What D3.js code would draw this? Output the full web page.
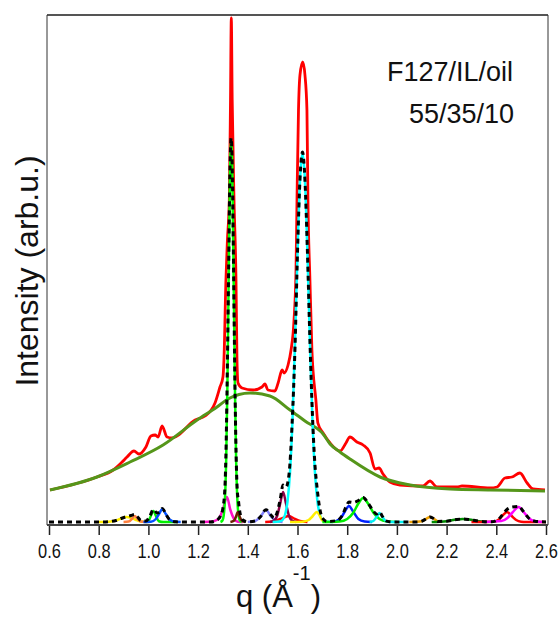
<!DOCTYPE html>
<html>
<head>
<meta charset="utf-8">
<script src="https://cdn.jsdelivr.net/npm/d3@7"></script>
<style>
  body { margin: 0; background: #fff; }
  text { font-family: "Liberation Sans", Arial, sans-serif; fill: #111; }
</style>
</head>
<body>
<div class="layout"></div>
<script>
// tick labels on q axis
var qTicks = [0.6, 0.8, 1.0, 1.2, 1.4, 1.6, 1.8, 2.0, 2.2, 2.4, 2.6];

// measured curve (red), [q, intensity]
var measured = [
  [0.604, 32], [0.793, 45], [0.858, 52], [0.894, 60], [0.914, 65], [0.942, 71], [0.962, 68],
  [0.990, 75], [1.010, 86], [1.027, 87], [1.039, 85], [1.055, 96], [1.075, 85], [1.095, 84],
  [1.188, 102], [1.228, 106], [1.268, 119], [1.288, 135], [1.300, 145], [1.304, 162],
  [1.312, 242], [1.318, 282], [1.3256, 322], [1.3304, 422], [1.3336, 504], [1.3372, 422],
  [1.3445, 322], [1.3525, 242], [1.3565, 162], [1.3606, 139], [1.3767, 134], [1.421, 132],
  [1.457, 135], [1.469, 138], [1.481, 132], [1.509, 131], [1.522, 139], [1.538, 152],
  [1.546, 149], [1.562, 157], [1.574, 172], [1.586, 202], [1.594, 252], [1.598, 322],
  [1.604, 412], [1.610, 447], [1.621, 460], [1.630, 447], [1.638, 412], [1.642, 322],
  [1.650, 242], [1.658, 172], [1.674, 122], [1.682, 99], [1.703, 89], [1.731, 79],
  [1.771, 71], [1.795, 79], [1.811, 85], [1.839, 80], [1.864, 77], [1.892, 69], [1.912, 53],
  [1.928, 54], [1.944, 48], [1.972, 40], [2.012, 37], [2.105, 36], [2.133, 41], [2.161, 35],
  [2.242, 35], [2.262, 36], [2.375, 34], [2.403, 35], [2.435, 44], [2.463, 45], [2.495, 49],
  [2.524, 39], [2.548, 33], [2.596, 32]
];

// broad background (olive green)
var background = [
  [0.604, 32], [0.793, 45], [0.926, 60], [1.059, 77], [1.196, 102], [1.276, 115], [1.320, 123],
  [1.409, 129], [1.489, 126], [1.570, 112], [1.630, 101], [1.703, 88], [1.731, 78],
  [1.771, 70], [1.811, 63], [1.932, 45], [2.053, 37], [2.214, 33], [2.375, 32], [2.596, 31]
];

// fitted peak components
var peak091 = [[0.80, 0], [0.84, 0.3], [0.87, 1.5], [0.89, 3.5], [0.91, 5], [0.93, 4.2], [0.95, 2], [0.97, 0.5], [1.00, 0]];
var peak095 = [[0.90, 0], [0.92, 0.4], [0.935, 3.5], [0.945, 6], [0.955, 3.5], [0.97, 0.4], [0.99, 0]];
var peak102 = [[0.99, 0], [1.00, 0.8], [1.008, 5], [1.02, 11], [1.032, 5], [1.042, 0.8], [1.06, 0], [1.115, 0]];
var peak106 = [[0.98, 0], [1.01, 0.3], [1.03, 3], [1.045, 9], [1.056, 13], [1.07, 8], [1.085, 2.5], [1.11, 0.2], [1.13, 0]];
var peak132 = [[1.22, 0], [1.26, 0.5], [1.285, 4], [1.30, 13], [1.316, 25], [1.33, 12], [1.345, 3], [1.36, 0.3], [1.38, 0]];
var peak133 = [[1.29, 0], [1.298, 1.5], [1.303, 6.5], [1.308, 22], [1.313, 62], [1.318, 138], [1.323, 243],
               [1.328, 341], [1.333, 382], [1.338, 341], [1.343, 243], [1.348, 138], [1.353, 62],
               [1.358, 22], [1.363, 6.5], [1.368, 1.5], [1.376, 0]];
var peak136 = [[1.33, 0], [1.345, 1.5], [1.352, 5], [1.36, 10], [1.368, 5], [1.375, 1.5], [1.39, 0]];
var peak147 = [[1.40, 0], [1.43, 1], [1.45, 5], [1.473, 12], [1.495, 5], [1.515, 1], [1.54, 0]];
var peak156 = [[1.47, 0], [1.50, 0.5], [1.53, 3], [1.565, 6], [1.59, 3], [1.61, 1], [1.64, 0]];
var peak154 = [[1.49, 0], [1.505, 1.5], [1.518, 6], [1.53, 18], [1.542, 30], [1.554, 18], [1.566, 6], [1.578, 1.5], [1.595, 0]];
var peak162 = [[1.50, 0], [1.525, 0.5], [1.54, 2.2], [1.55, 7.3], [1.56, 21], [1.57, 50], [1.58, 103], [1.59, 180],
               [1.60, 268], [1.61, 341], [1.62, 369], [1.63, 341], [1.64, 268], [1.65, 180], [1.66, 103],
               [1.67, 50], [1.68, 21], [1.69, 7.3], [1.70, 2.2], [1.715, 0.5], [1.74, 0]];
var peak168 = [[1.57, 0], [1.62, 0.3], [1.645, 2], [1.66, 5.5], [1.678, 10], [1.69, 6], [1.70, 1.5], [1.72, 0]];
var peak181 = [[1.74, 0], [1.76, 1.5], [1.78, 6], [1.795, 12.5], [1.807, 16], [1.825, 10], [1.845, 3], [1.87, 0.5], [1.90, 0]];
var peak186 = [[1.70, 0], [1.77, 0.5], [1.80, 3], [1.825, 9.5], [1.845, 18.5], [1.864, 24], [1.885, 18], [1.905, 9.5], [1.93, 3], [1.96, 0.5], [2.00, 0]];
var peak193 = [[1.89, 0], [1.905, 1], [1.918, 5], [1.93, 9], [1.942, 5], [1.955, 1], [1.97, 0], [2.04, 0]];
var peak213 = [[2.05, 0], [2.10, 0.8], [2.12, 3.5], [2.133, 5], [2.147, 3.5], [2.165, 0.6], [2.18, 0]];
var peak226 = [[2.14, 0], [2.20, 0.8], [2.24, 2.5], [2.265, 3], [2.29, 2.5], [2.33, 0.8], [2.36, 0]];
var peak244 = [[2.30, 0], [2.39, 0.3], [2.41, 2.5], [2.427, 7], [2.443, 10], [2.46, 6.5], [2.48, 2], [2.50, 0.3], [2.52, 0], [2.60, 0]];
var peak249 = [[2.35, 0], [2.42, 1], [2.445, 4], [2.465, 9.5], [2.49, 15], [2.51, 10], [2.53, 4], [2.555, 0.8], [2.59, 0]];

// sum of peak components (black dotted)
var peakSum = [
  [0.6, 0], [0.82, 0], [0.84, 0.3], [0.87, 1.5], [0.89, 3.5], [0.91, 5.2], [0.93, 6.5], [0.945, 7.5],
  [0.955, 5.5], [0.97, 1.5], [0.99, 1], [1.005, 5.5], [1.02, 12.5], [1.035, 9], [1.045, 10],
  [1.056, 13.5], [1.07, 8], [1.085, 2.5], [1.11, 0.2], [1.15, 0], [1.25, 0], [1.27, 1], [1.29, 6],
  [1.30, 14], [1.308, 35], [1.313, 80], [1.318, 160], [1.323, 255], [1.328, 348], [1.333, 384],
  [1.338, 345], [1.343, 248], [1.348, 142], [1.353, 67], [1.358, 30], [1.362, 22], [1.368, 10],
  [1.38, 2], [1.40, 0.2], [1.43, 1], [1.45, 5], [1.473, 12.2], [1.495, 6.5], [1.505, 4],
  [1.518, 9.5], [1.53, 22], [1.542, 37], [1.554, 35], [1.566, 48], [1.578, 97], [1.59, 175],
  [1.60, 270], [1.61, 343], [1.62, 370], [1.63, 342], [1.64, 270], [1.65, 182], [1.66, 108],
  [1.67, 58], [1.678, 36], [1.69, 13], [1.70, 4], [1.72, 0.5], [1.76, 1.5], [1.78, 6.5],
  [1.795, 15], [1.807, 20], [1.825, 19.5], [1.845, 21.5], [1.864, 24.5], [1.885, 18.5],
  [1.905, 11], [1.918, 8], [1.93, 10], [1.942, 5.5], [1.955, 1.2], [1.97, 0.2], [2.0, 0],
  [2.08, 0], [2.10, 0.8], [2.12, 3.5], [2.133, 5], [2.147, 3.5], [2.165, 0.6], [2.20, 0.8],
  [2.24, 2.5], [2.265, 3], [2.29, 2.5], [2.33, 0.8], [2.38, 0.2], [2.41, 3], [2.427, 8],
  [2.443, 12.5], [2.465, 15], [2.49, 15.5], [2.51, 10.3], [2.53, 4], [2.555, 0.8], [2.6, 0]
];

var components = [peak091, peak095, peak102, peak106, peak132, peak133, peak136, peak147, peak156,
                  peak154, peak162, peak168, peak181, peak186, peak193, peak213, peak226, peak244, peak249];
var componentColors = ["#ffee00", "#ff8040", "#00ee00", "#0050ff", "#ff10c8", "#00ff00", "#6b2000",
                       "#8080ff", "#ff0000", "#8c0048", "#00ffff", "#ffee00", "#0020ff", "#00ee00",
                       "#00f0f0", "#f0a000", "#008a00", "#ff0000", "#ff00ff"];

var margin = {top: 15, right: 12, bottom: 99, left: 47},
    width = 560 - margin.left - margin.right,
    height = 624 - margin.top - margin.bottom;

var x = d3.scaleLinear().domain([0.6, 2.6]).range([2, width - 2]);
var y = d3.scaleLinear().domain([-3, 507]).range([height, 0]);

var line = d3.line()
    .x(function(d) { return x(d[0]); })
    .y(function(d) { return y(d[1]); })
    .curve(d3.curveMonotoneX);

var svg = d3.select(".layout").append("svg")
    .attr("width", 560)
    .attr("height", 624)
  .append("g")
    .attr("transform", "translate(" + margin.left + "," + margin.top + ")");

// frame
svg.append("line").attr("x1", 0).attr("x2", width).attr("y1", 0).attr("y2", 0)
    .attr("stroke", "#555").attr("stroke-width", 2);
svg.append("line").attr("x1", 0).attr("x2", 0).attr("y1", 0).attr("y2", height)
    .attr("stroke", "#333").attr("stroke-width", 1);
svg.append("line").attr("x1", width).attr("x2", width).attr("y1", 0).attr("y2", height)
    .attr("stroke", "#333").attr("stroke-width", 1);

svg.append("path").datum(measured)
    .attr("fill", "none").attr("stroke", "#ff0000").attr("stroke-width", 2.8)
    .attr("stroke-linejoin", "round").attr("d", line);

svg.append("path").datum(background)
    .attr("fill", "none").attr("stroke", "#55961a").attr("stroke-width", 3)
    .attr("d", line);

svg.selectAll(".comp").data(components).enter().append("path")
    .attr("class", "comp")
    .attr("fill", "none")
    .attr("stroke", function(d, i) { return componentColors[i]; })
    .attr("stroke-width", 2.5)
    .attr("d", line);

svg.append("path").datum(peakSum)
    .attr("fill", "none").attr("stroke", "#000").attr("stroke-width", 3)
    .attr("stroke-dasharray", "5,4").attr("d", line);

// x axis
var xAxis = d3.axisBottom(x)
    .tickValues(qTicks)
    .tickFormat(d3.format(".1f"))
    .tickSize(10)
    .tickSizeOuter(0)
    .tickPadding(9);

var gx = svg.append("g")
    .attr("transform", "translate(0," + height + ")")
    .call(xAxis);
gx.select(".domain").remove();
gx.selectAll(".tick line").attr("stroke", "#222").attr("stroke-width", 1.5);
gx.selectAll(".tick text")
    .attr("font-size", 20)
    .attr("fill", "#111")
    .attr("transform", "scale(0.82,1)");
svg.append("line").attr("x1", 0).attr("x2", width).attr("y1", height).attr("y2", height)
    .attr("stroke", "#444").attr("stroke-width", 2);

// axis titles
svg.append("text")
    .attr("transform", "translate(" + (38 - margin.left) + "," + (271 - margin.top) + ") rotate(-90)")
    .attr("text-anchor", "middle")
    .attr("font-size", 32)
    .text("Intensity (arb.u.)");

var xt = svg.append("text")
    .attr("x", 236 - margin.left)
    .attr("y", 607 - margin.top)
    .attr("font-size", 31);
xt.append("tspan").text("q (Å");
xt.append("tspan").attr("font-size", 20).attr("dy", -27).text("-1");
xt.append("tspan").attr("dy", 27).text(")");

// sample label
svg.append("text")
    .attr("x", 513 - margin.left).attr("y", 81 - margin.top)
    .attr("text-anchor", "end").attr("font-size", 27)
    .text("F127/IL/oil");
svg.append("text")
    .attr("x", 514 - margin.left).attr("y", 123 - margin.top)
    .attr("text-anchor", "end").attr("font-size", 27)
    .text("55/35/10");
</script>
</body>
</html>
